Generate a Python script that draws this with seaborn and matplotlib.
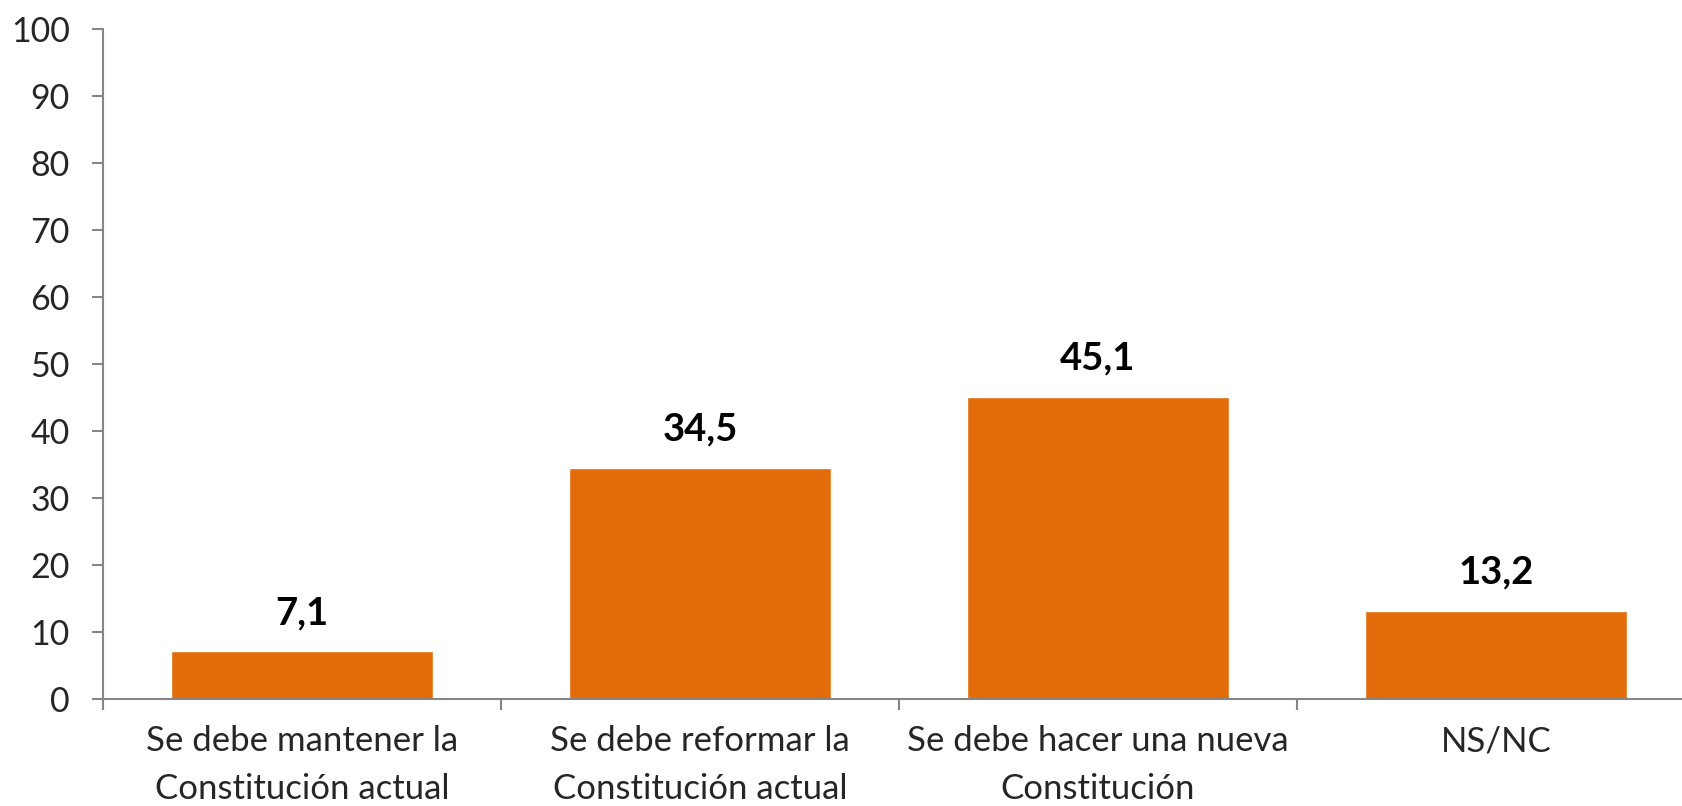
import matplotlib
matplotlib.use("Agg")
import matplotlib.pyplot as plt
import seaborn as sns
from matplotlib.ticker import FixedLocator

# Chart data
categories = [
    "Se debe mantener la\nConstitución actual",
    "Se debe reformar la\nConstitución actual",
    "Se debe hacer una nueva\nConstitución",
    "NS/NC",
]
values = [7.1, 34.5, 45.1, 13.2]
y_ticks = [0, 10, 20, 30, 40, 50, 60, 70, 80, 90, 100]

sns.set_style("white")
plt.rcParams['font.family'] = ['Lato', 'DejaVu Sans']

bar_color = "#E36C0A"
axis_color = "#868686"

fig = plt.figure(figsize=(16.82, 8.06), dpi=100)
ax = fig.add_axes([0.0612, 0.1328, 0.9465, 0.8313])

sns.barplot(x=categories, y=values, color=bar_color, saturation=1,
            width=0.66, ax=ax)

ax.set_ylim(0, 100)
ax.set_xlim(-0.5, len(categories) - 0.5)
ax.set_yticks(y_ticks)
ax.set_yticklabels([str(t) for t in y_ticks], fontsize=24.5)

# value labels on top of the bars
for i, v in enumerate(values):
    ax.annotate(f"{v:.1f}".replace(".", ","), xy=(i, v), xytext=(0, 15),
                textcoords="offset points", ha="center", va="bottom",
                fontsize=27.5, fontweight="bold", color="black")

# spines
sns.despine(ax=ax, top=True, right=True)
for side in ["left", "bottom"]:
    ax.spines[side].set_color(axis_color)
    ax.spines[side].set_linewidth(1.5)

# tick marks: y outward, x ticks between categories
ax.tick_params(axis="y", which="major", direction="out", length=8, width=1.5,
               color=axis_color, pad=16, left=True)
ax.xaxis.set_minor_locator(FixedLocator([i - 0.5 for i in range(len(categories) + 1)]))
ax.tick_params(axis="x", which="minor", direction="out", length=8, width=1.5,
               color=axis_color, bottom=True)
ax.tick_params(axis="x", which="major", length=0, pad=19)
for lbl in ax.get_xticklabels():
    lbl.set_fontsize(25)
    lbl.set_linespacing(1.6)
    lbl.set_va("top")

ax.set_xlabel("")
ax.set_ylabel("")
ax.grid(False)

fig.savefig("out.png", dpi=100)
